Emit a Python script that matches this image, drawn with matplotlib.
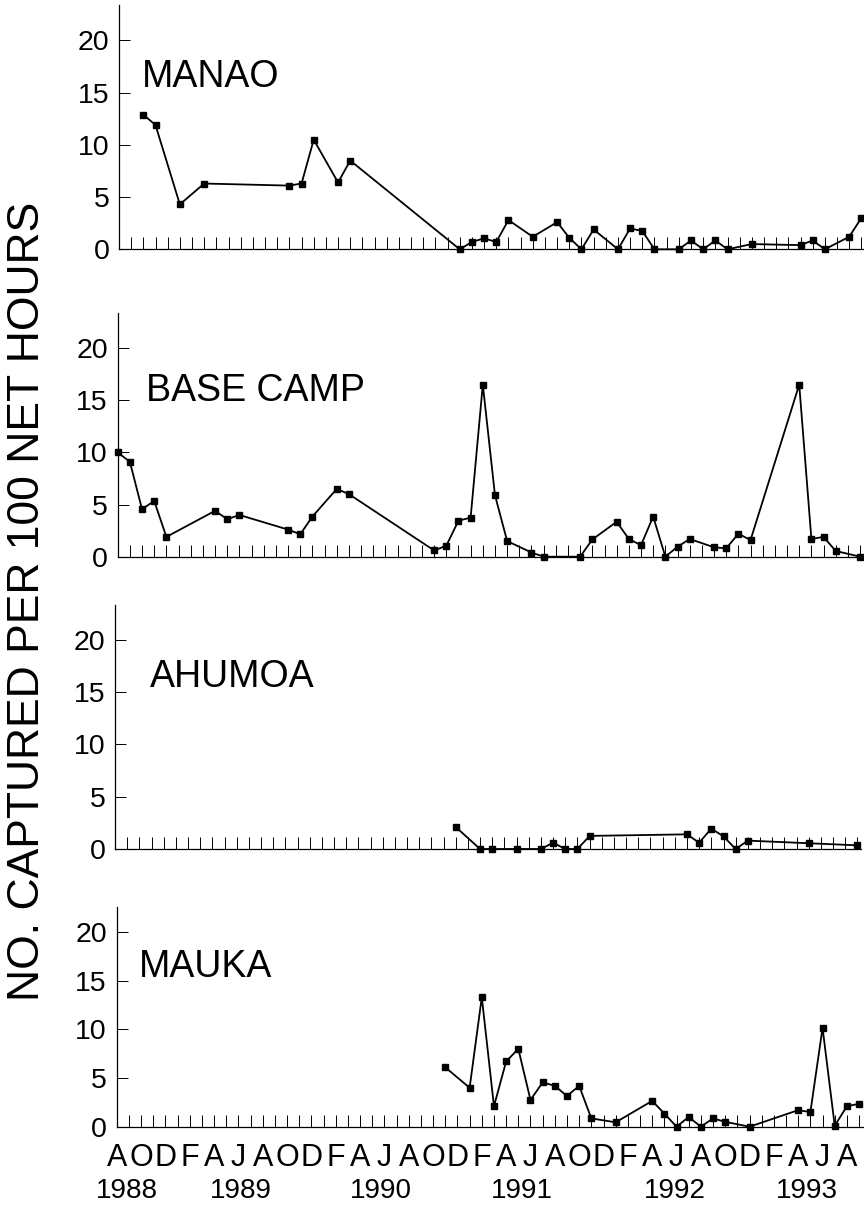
import numpy as np
import matplotlib.pyplot as plt

plt.rcParams['font.family'] = ['Liberation Sans', 'DejaVu Sans']

# months counted from Aug 1988 (0 = Aug 1988)
manao_m = [2, 3, 5, 7, 14, 15, 16, 18, 19, 28, 29, 30, 31, 32, 34, 36, 37, 38, 39, 41,
           42, 43, 44, 46, 47, 48, 49, 50, 52, 56, 57, 58, 60, 61]
manao_v = [12.9, 11.9, 4.3, 6.3, 6.1, 6.3, 10.5, 6.4, 8.5, 0, 0.7, 1.05, 0.7, 2.8, 1.2, 2.6,
           1.1, 0, 1.9, 0, 2.0, 1.75, 0, 0, 0.85, 0, 0.85, 0, 0.5, 0.4, 0.85, 0, 1.2, 3.0]

base_m = [0, 1, 2, 3, 4, 8, 9, 10, 14, 15, 16, 18, 19, 26, 27, 28, 29, 30, 31, 32, 34, 35,
          38, 39, 41, 42, 43, 44, 45, 46, 47, 49, 50, 51, 52, 56, 57, 58, 59, 61]
base_v = [10.0, 9.1, 4.55, 5.35, 1.9, 4.4, 3.6, 4.0, 2.6, 2.15, 3.85, 6.5, 6.0, 0.6, 1.05,
          3.45, 3.75, 16.5, 5.9, 1.5, 0.4, 0, 0, 1.65, 3.35, 1.7, 1.1, 3.85, 0, 0.95, 1.7,
          0.9, 0.8, 2.2, 1.6, 16.5, 1.7, 1.9, 0.55, 0]

ahumoa_m = [28, 30, 31, 33, 35, 36, 37, 38, 39, 47, 48, 49, 50, 51, 52, 57, 61]
ahumoa_v = [2.1, 0, 0, 0, 0, 0.6, 0, 0, 1.25, 1.4, 0.6, 1.95, 1.2, 0, 0.8, 0.55, 0.35]

mauka_m = [27, 29, 30, 31, 32, 33, 34, 35, 36, 37, 38, 39, 41, 44, 45, 46, 47, 48, 49, 50,
           52, 56, 57, 58, 59, 60, 61]
mauka_v = [6.1, 4.0, 13.3, 2.1, 6.7, 8.0, 2.75, 4.55, 4.2, 3.15, 4.2, 0.85, 0.45, 2.65,
           1.35, 0, 1.0, 0, 0.85, 0.5, 0, 1.7, 1.5, 10.15, 0.1, 2.1, 2.35]

month_letters = ['A', 'O', 'D', 'F', 'A', 'J'] * 5 + ['A']
years = ['1988', '1989', '1990', '1991', '1992', '1993']
year_pos = [0.8, 10.2, 21.7, 33.3, 45.9, 56.7]

W, H = 864, 1205
px_per_month = 12.17
xmax = 61.3

# name, months, values, left px, top px, bottom px, ymax, label x, label y
panels = [
    ('MANAO', manao_m, manao_v, 119, 5, 249.3, 23.4, 1.9, 15.5),
    ('BASE CAMP', base_m, base_v, 117.7, 312.7, 556.7, 23.4, 2.3, 14.9),
    ('AHUMOA', ahumoa_m, ahumoa_v, 115, 605, 849, 23.3, 2.9, 15.5),
    ('MAUKA', mauka_m, mauka_v, 116.7, 906.7, 1126.7, 22.6, 1.85, 15.4),
]

fig = plt.figure(figsize=(W / 100, H / 100), dpi=100)

for i, (name, m, v, left, top, bottom, ymax, lx, ly) in enumerate(panels):
    ax = fig.add_axes([left / W, 1 - bottom / H, xmax * px_per_month / W, (bottom - top) / H])
    ax.plot(m, v, color='black', lw=1.3, marker='s', ms=4.3, clip_on=False, zorder=3)
    ax.set_xlim(0, xmax)
    ax.set_ylim(0, ymax)
    for s in ['top', 'right']:
        ax.spines[s].set_visible(False)
    for s in ['left', 'bottom']:
        ax.spines[s].set_linewidth(0.9)
    ax.set_yticks([0, 5, 10, 15, 20])
    ax.tick_params(axis='y', direction='in', length=8, width=0.7, labelsize=20.5, pad=7)
    ax.set_xticks(range(0, 62))
    ax.tick_params(axis='x', direction='in', length=8.5, width=0.7, labelsize=22, pad=12)
    if i == len(panels) - 1:
        labels = []
        for k in range(62):
            labels.append(month_letters[k // 2] if k % 2 == 0 else '')
        ax.set_xticklabels(labels)
        for yr, xp in zip(years, year_pos):
            ax.text(xp, -0.324, yr, transform=ax.get_xaxis_transform(),
                    ha='center', va='baseline', fontsize=20)
    else:
        ax.set_xticklabels([])
    ax.text(lx, ly, name, fontsize=27, ha='left', va='baseline')

fig.text(48 / W, 0.5008, 'NO. CAPTURED PER 100 NET HOURS', rotation=90,
         ha='right', va='center', fontsize=32)

plt.savefig('out.png', dpi=100)
